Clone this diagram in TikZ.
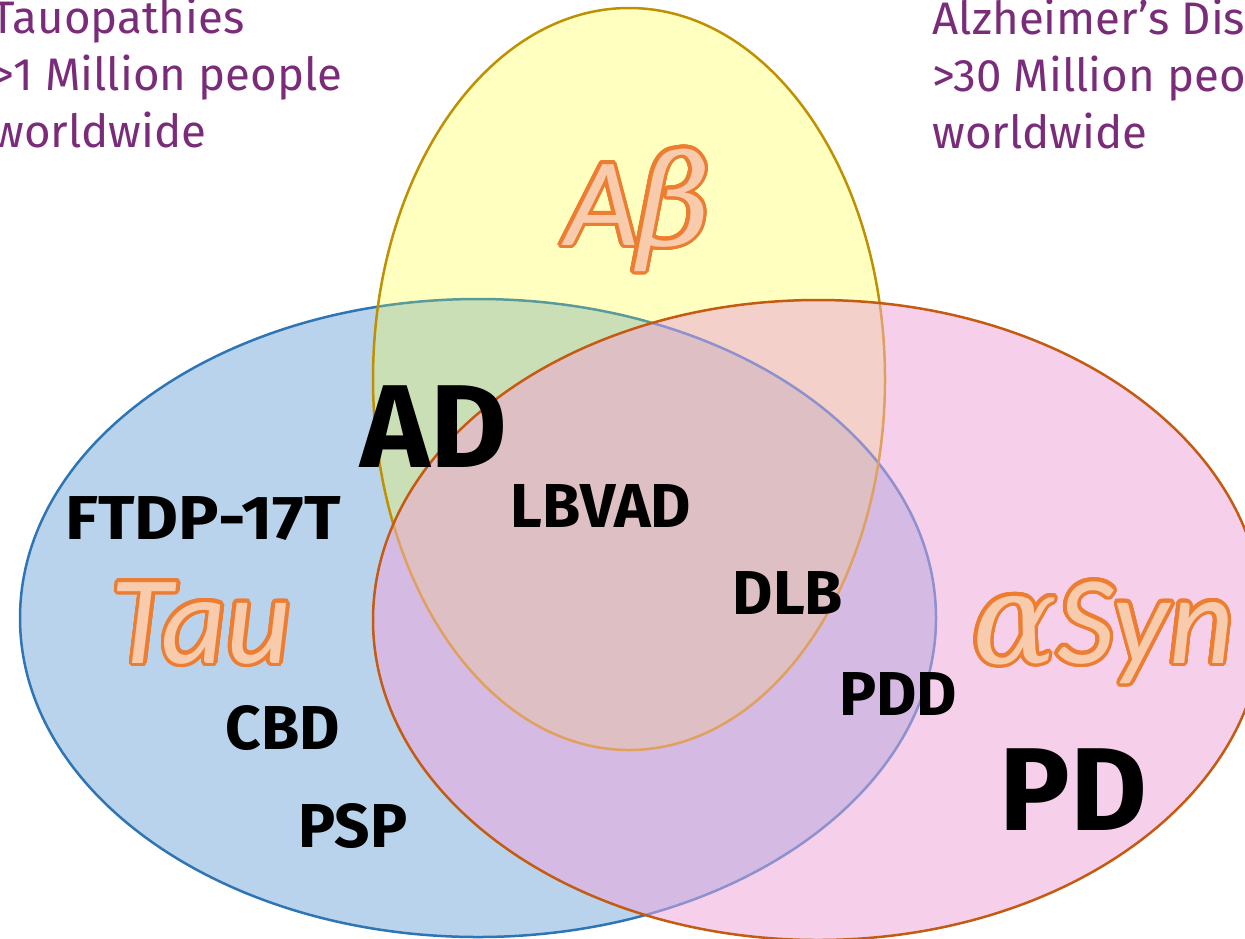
\documentclass[tikz,border=0pt]{standalone}
\usepackage{fontspec}
\setmainfont{Fira Sans}
\newfontfamily\carl{Carlito}
\newfontfamily\greekit{DejaVu Serif}
\definecolor{blueF}{HTML}{B9D3EC}
\definecolor{yellowF}{HTML}{FFFFC0}
\definecolor{pinkF}{HTML}{F6D0EB}
\definecolor{byF}{HTML}{CBDFB7}
\definecolor{bpF}{HTML}{D5BBE4}
\definecolor{pyF}{HTML}{F4D0CB}
\definecolor{bpyF}{HTML}{DEBFC4}
\definecolor{blueL}{HTML}{2E75B6}
\definecolor{blueLY}{HTML}{5B9A9A}
\definecolor{blueLP}{HTML}{8E91CD}
\definecolor{yellowL}{HTML}{BF9000}
\definecolor{yellowLP}{HTML}{E0A060}
\definecolor{pinkL}{HTML}{C55A11}
\definecolor{orangeL}{HTML}{ED7D31}
\definecolor{orangeF}{HTML}{F8CBAD}
\definecolor{purpleT}{HTML}{7A2C7A}
\newcommand\clipB{\clip (478,618) ellipse [x radius=229pt, y radius=159.5pt];}
\newcommand\clipY{\clip (629,379) ellipse [x radius=128pt, y radius=185.5pt];}
\newcommand\clipP{\clip (818,620) ellipse [x radius=222.5pt, y radius=160pt];}
\newcommand\pathB[1]{\path[#1] (478,618) ellipse [x radius=229pt, y radius=159.5pt];}
\newcommand\pathY[1]{\path[#1] (629,379) ellipse [x radius=128pt, y radius=185.5pt];}
\newcommand\pathP[1]{\path[#1] (818,620) ellipse [x radius=222.5pt, y radius=160pt];}
\newcommand\outlined[4]{%
  \foreach \a in {0,15,...,345}
    \node[#4, text=orangeL, xshift={1.8pt*cos(\a)}, yshift={1.8pt*sin(\a)}] at (#2) {#3};
  \node[#4, text=orangeF] (#1) at (#2) {#3};}
\tikzset{
  edge/.style={line width=1.25pt},
  lbl/.style={inner sep=0pt, anchor=base, font=\bfseries\fontsize{31}{31}\selectfont},
  big/.style={inner sep=0pt, anchor=base, font=\bfseries\fontsize{59}{59}\selectfont},
  prot/.style={inner sep=0pt, anchor=base, font=\carl\itshape\fontsize{63}{63}\selectfont},
  info/.style={inner sep=0pt, anchor=base west, align=left, text=purpleT,
    font=\fontsize{22.8}{28.5}\selectfont}
}
\begin{document}
\begin{tikzpicture}[x=0.5pt,y=-0.5pt]
\useasboundingbox (0,0) rectangle (1245,938);
\begin{scope}
\clip (0,0) rectangle (1245,938);
% blue
\pathB{fill=blueF}
\pathB{draw=blueL, edge}
% yellow
\pathY{fill=yellowF}
\begin{scope}\clipY \pathB{fill=byF} \pathB{draw=blueLY, edge}\end{scope}
\pathY{draw=yellowL, edge}
% pink
\pathP{fill=pinkF}
\begin{scope}\clipP
  \pathB{fill=bpF}
  \pathY{fill=pyF}
  \begin{scope}\clipY \pathB{fill=bpyF}\end{scope}
  \pathB{draw=blueLP, edge}
  \pathY{draw=yellowLP, edge}
\end{scope}
\pathP{draw=pinkL, edge}
% texts
\node[info] (tauinfo) at (-9,147) {Tauopathies\\>1 Million people\\worldwide};
\node[info] (adinfo) at (932,148) {Alzheimer’s Disease\\>30 Million people\\worldwide};
\outlined{abeta}{638,245}{A{\greekit β}}{prot}
\outlined{tau}{201,663}{Tau}{prot}
\outlined{asyn}{1103,663}{{\greekit α}Syn}{prot}
\node[big] (ad) at (434,467) {AD};
\node[big] (pd) at (1073,830) {PD};
\node[lbl] (lbvad) at (601,527) {LBVAD};
\node[lbl] (ftdp) at (203,539) {\scalebox{1.09}[1]{FTDP-17T}};
\node[lbl] (dlb) at (788,614) {DLB};
\node[lbl] (pdd) at (898,715) {PDD};
\node[lbl] (cbd) at (283,749) {CBD};
\node[lbl] (psp) at (353,847) {PSP};
\end{scope}
\end{tikzpicture}
\end{document}
